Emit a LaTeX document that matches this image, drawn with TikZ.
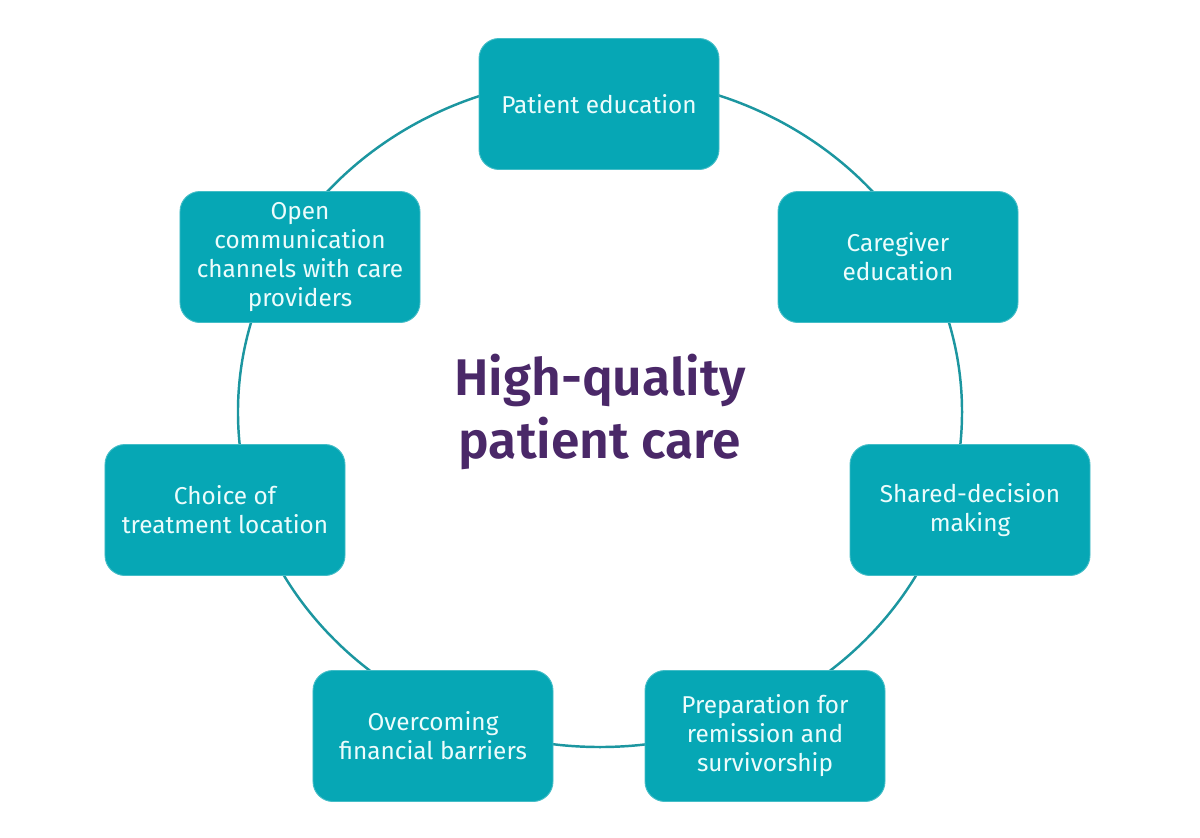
\documentclass[tikz,border=0pt]{standalone}
\usepackage{fontspec}
\setmainfont{Fira Sans}[BoldFont={Fira Sans SemiBold}]
\usepackage{tikz}
\usetikzlibrary{positioning}
\definecolor{boxteal}{RGB}{6,167,181}
\definecolor{ringteal}{RGB}{28,150,160}
\definecolor{textwhite}{RGB}{236,252,252}
\definecolor{titlepurple}{RGB}{74,40,104}

\tikzset{
    carebox/.style={rounded corners=0.6cm, fill=boxteal, draw=boxteal!75!white, line width=0.8pt,
        minimum width=7.2cm, minimum height=3.93cm, inner sep=0pt, align=center,
        text=textwhite, font=\fontsize{20.8}{24.7}\selectfont},
    ring/.style={draw=ringteal, line width=2.1pt}
}

\begin{document}
\begin{tikzpicture}[x=0.03cm, y=-0.03cm]
            \useasboundingbox (0,0) rectangle (1200,838);
            \node[font=\bfseries\fontsize{44}{54}\selectfont, text=titlepurple, align=center] (hqcare) at (600,412) {High-quality\\patient care};

            % ring behind the boxes
            \draw[ring] (hqcare.center) ellipse [x radius=10.86cm, y radius=10.05cm];

            \node[carebox] (pateduc) at (599,104) {Patient education};
            \node[carebox] (careduc) at (898,257) {Caregiver\\education};
            \node[carebox] (shared) at (970,510) {Shared-decision\\making};
            \node[carebox] (remission) at (765,736) {Preparation for\\remission and\\survivorship};
            \node[carebox] (finance) at (433,736) {Overcoming\\financial barriers};
            \node[carebox] (location) at (225,510) {Choice of\\treatment location};
            \node[carebox] (opencomm) at (300,257) {Open\\communication\\channels with care\\providers};
        \end{tikzpicture}
\end{document}
